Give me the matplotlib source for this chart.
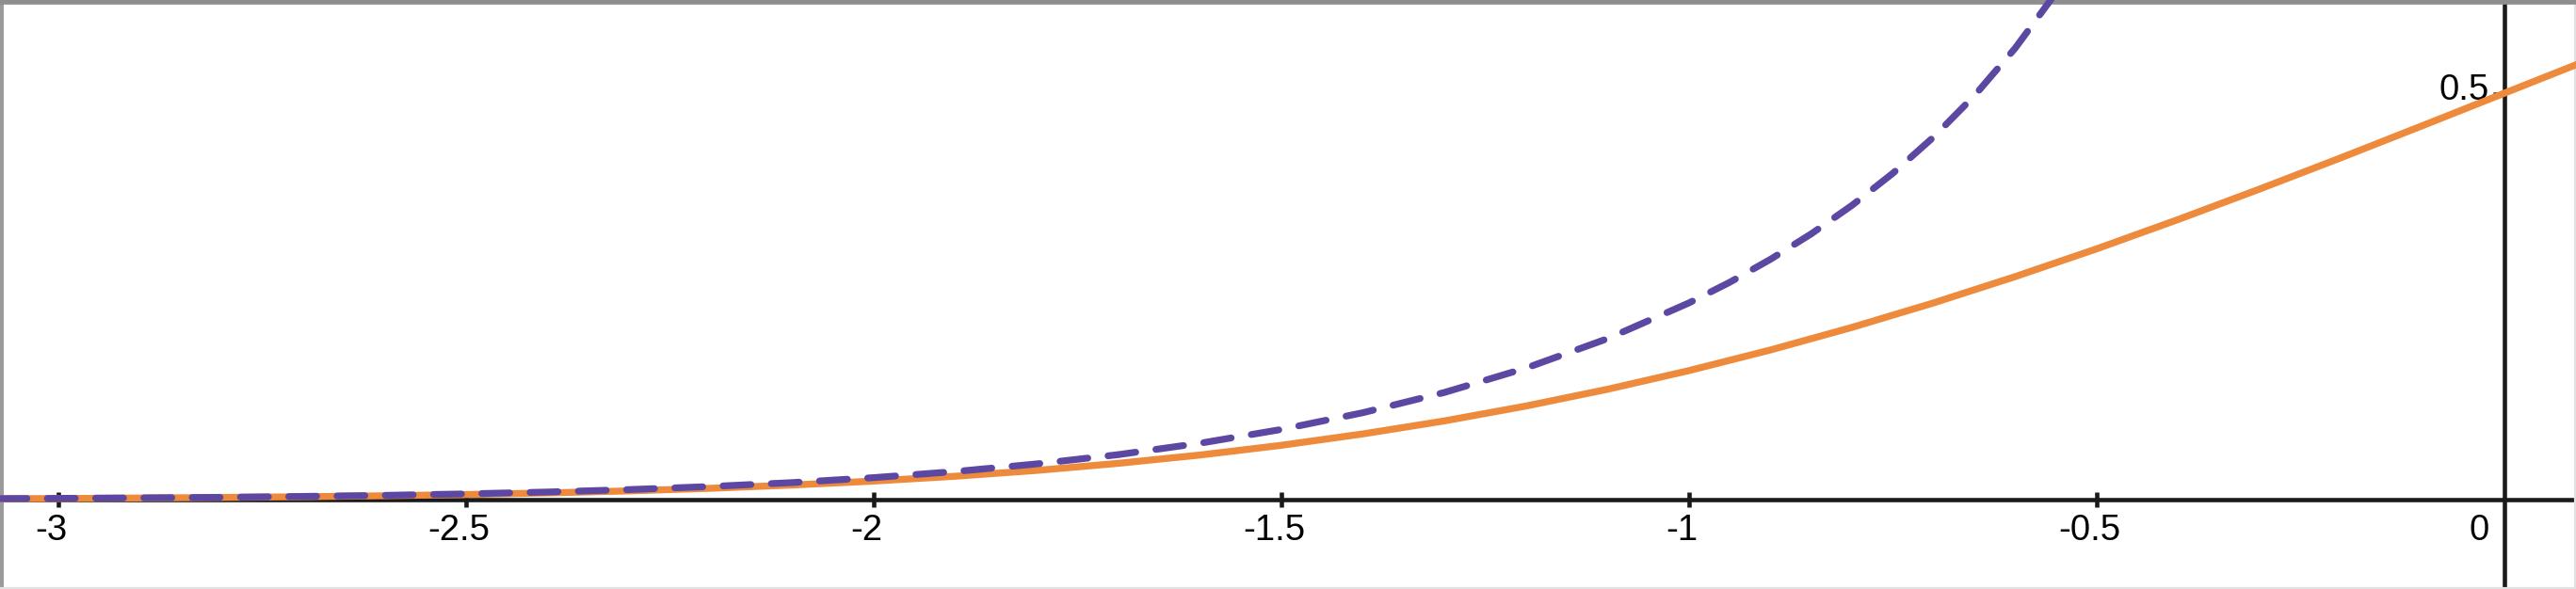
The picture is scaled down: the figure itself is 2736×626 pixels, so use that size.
import matplotlib.pyplot as plt

# values
x_orange = [-3.1, -3.0, -2.9, -2.8, -2.7, -2.6, -2.5, -2.4, -2.3, -2.2, -2.1,
            -2.0, -1.9, -1.8, -1.7, -1.6, -1.5, -1.4, -1.3, -1.2, -1.1,
            -1.0, -0.9, -0.8, -0.7, -0.6, -0.5, -0.4, -0.3, -0.2, -0.1, 0.0, 0.1]
y_orange = [0.001, 0.0013, 0.0019, 0.0026, 0.0035, 0.0047, 0.0062, 0.0082, 0.0107, 0.0139, 0.0179,
            0.0228, 0.0287, 0.0359, 0.0446, 0.0548, 0.0668, 0.0808, 0.0968, 0.1151, 0.1357,
            0.1587, 0.1841, 0.2119, 0.242, 0.2743, 0.3085, 0.3446, 0.3821, 0.4207, 0.4602, 0.5, 0.5398]

x_purple = [-3.1, -3.0, -2.9, -2.8, -2.7, -2.6, -2.5, -2.4, -2.3, -2.2, -2.1,
            -2.0, -1.9, -1.8, -1.7, -1.6, -1.5, -1.4, -1.3, -1.2, -1.1,
            -1.0, -0.95, -0.9, -0.85, -0.8, -0.75, -0.7, -0.65, -0.6, -0.55, -0.5]
y_purple = [0.0011, 0.0015, 0.0021, 0.0028, 0.0039, 0.0052, 0.007, 0.0093, 0.0123, 0.0161, 0.0209,
            0.027, 0.0345, 0.0439, 0.0553, 0.0693, 0.0863, 0.1069, 0.1318, 0.1618, 0.198,
            0.242, 0.2674, 0.2957, 0.327, 0.3621, 0.4015, 0.4461, 0.4969, 0.5554, 0.6235, 0.7041]

x_ticks = [-3, -2.5, -2, -1.5, -1, -0.5]
x_tick_labels = ['-3', '-2.5', '-2', '-1.5', '-1', '-0.5']
y_tick = 0.5

plt.rcParams['font.family'] = ['Liberation Sans', 'DejaVu Sans']

fig = plt.figure(figsize=(27.36, 6.26), dpi=100)
ax = fig.add_axes([0, 0, 1, 1])
ax.set_xlim(-3.0716, 0.0878)
ax.set_ylim(-0.110, 0.6146)
ax.set_xticks([])
ax.set_yticks([])

# frame like the screenshot
ax.spines['top'].set_color('#8e8e8e')
ax.spines['top'].set_linewidth(7)
ax.spines['left'].set_color('#9a9a9a')
ax.spines['left'].set_linewidth(5)
ax.spines['right'].set_color('#e2e2e2')
ax.spines['right'].set_linewidth(3)
ax.spines['bottom'].set_color('#e2e2e2')
ax.spines['bottom'].set_linewidth(3)

# axes through origin
ax.axhline(0, color='#1a1a1a', lw=3.3, zorder=1)
ax.axvline(0, color='#1a1a1a', lw=3.3, zorder=1)
ax.plot(x_ticks, [0] * len(x_ticks), ls='none', marker='|', ms=12, mew=3.3, color='#1a1a1a', zorder=1)
ax.plot([-0.008], [y_tick], ls='none', marker='_', ms=7, mew=1.8, color='#1a1a1a', zorder=1)

for t, lab in zip(x_ticks, x_tick_labels):
    ax.annotate(lab, (t, 0), xytext=(-8, -15), textcoords='offset pixels',
                ha='center', va='top', fontsize=27.5, color='black')
ax.annotate('0', (0, 0), xytext=(-16, -15), textcoords='offset pixels',
            ha='right', va='top', fontsize=27.5, color='black')
ax.annotate('0.5', (0, y_tick), xytext=(-16, 3), textcoords='offset pixels',
            ha='right', va='center', fontsize=27.5, color='black')

ax.plot(x_orange, y_orange, color='#ee8a3c', lw=5.3, solid_capstyle='round', zorder=3)
ax.plot(x_purple, y_purple, color='#5c48a3', lw=5.2, dashes=(4.1, 3.0),
        dash_capstyle='round', zorder=4)

fig.savefig('out.png', dpi=100)
